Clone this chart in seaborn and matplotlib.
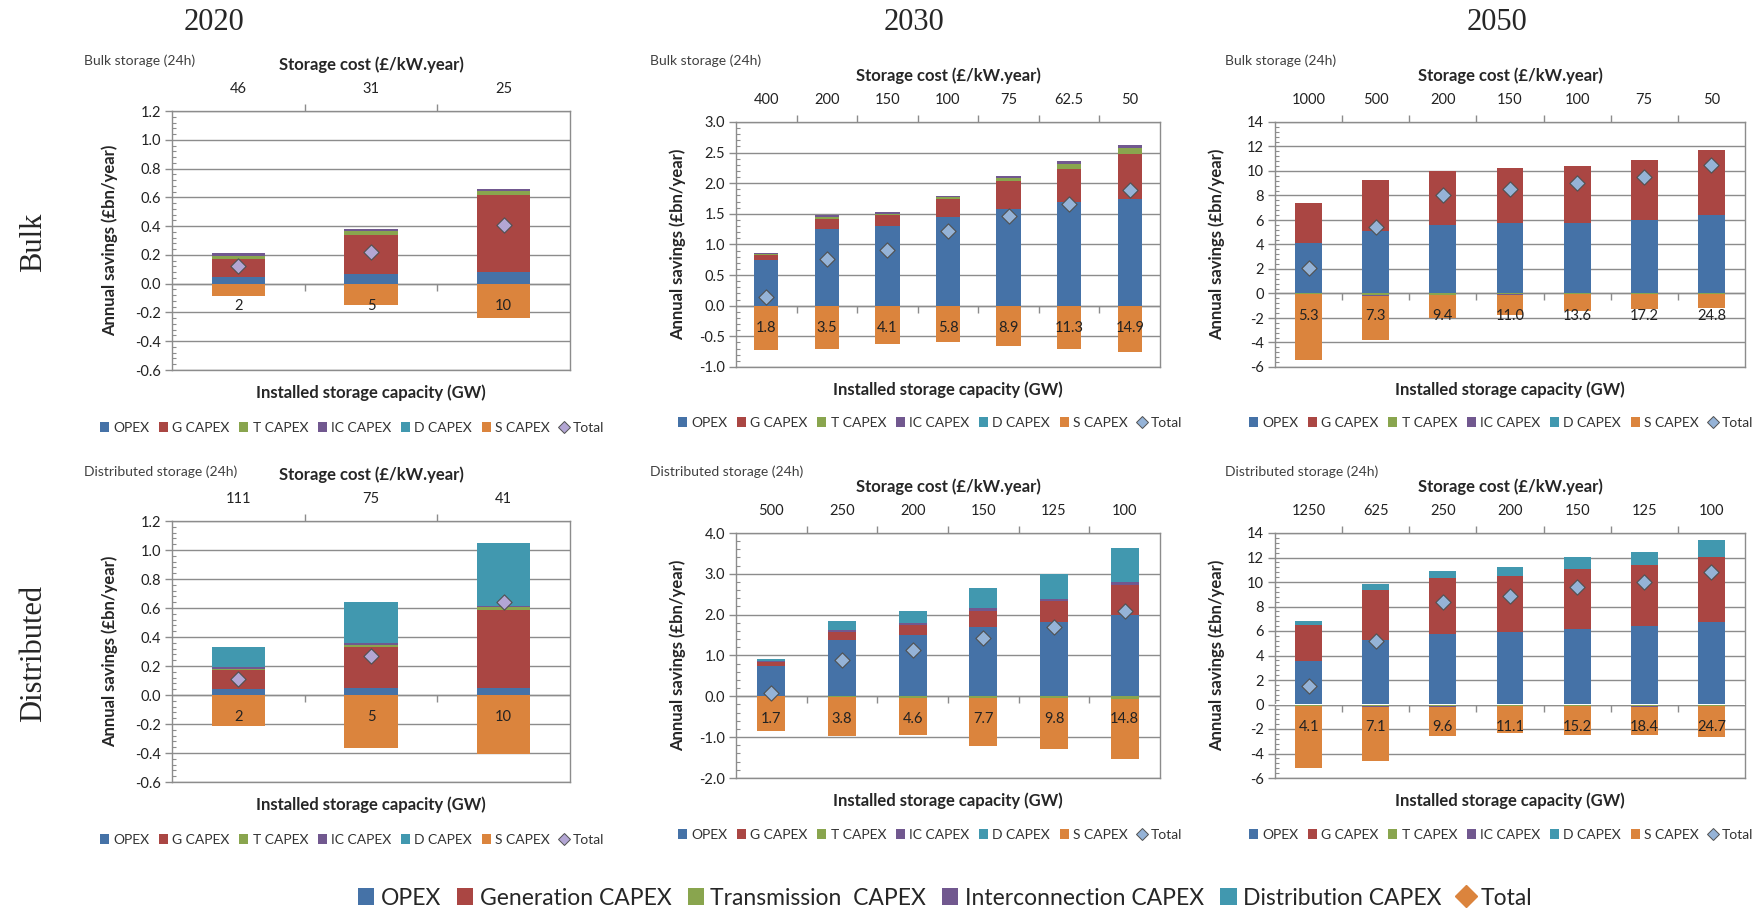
import numpy as np
import matplotlib
matplotlib.use('Agg')
import matplotlib.pyplot as plt
import seaborn as sns
from matplotlib.patches import Patch
from matplotlib.lines import Line2D
from matplotlib.ticker import MultipleLocator, AutoMinorLocator, FormatStrFormatter

sns.set_theme(style='white')
plt.rcParams['font.family'] = ['Lato', 'DejaVu Sans']
plt.rcParams['axes.unicode_minus'] = False

# ---- data ----
series_names = ['OPEX', 'G CAPEX', 'T CAPEX', 'IC CAPEX', 'D CAPEX', 'S CAPEX']
series_long = ['OPEX', 'Generation CAPEX', 'Transmission  CAPEX', 'Interconnection CAPEX',
               'Distribution CAPEX']
colors = ['#4572A7', '#AA4643', '#89A54E', '#71588F', '#4198AF', '#DB843D']

# 2020 bulk
b20_cost = ['46', '31', '25']
b20_cap = ['2', '5', '10']
b20_opex = [0.045, 0.064, 0.083]
b20_g = [0.125, 0.272, 0.533]
b20_t = [0.023, 0.028, 0.030]
b20_ic = [0.017, 0.013, 0.014]
b20_d = [0.0, 0.0, 0.0]
b20_s = [-0.084, -0.148, -0.239]
b20_total = [0.12, 0.22, 0.41]

# 2030 bulk
b30_cost = ['400', '200', '150', '100', '75', '62.5', '50']
b30_cap = ['1.8', '3.5', '4.1', '5.8', '8.9', '11.3', '14.9']
b30_opex = [0.745, 1.248, 1.303, 1.444, 1.585, 1.688, 1.75]
b30_g = [0.091, 0.174, 0.184, 0.293, 0.445, 0.548, 0.734]
b30_t = [0.006, 0.028, 0.016, 0.033, 0.049, 0.081, 0.086]
b30_ic = [0.016, 0.032, 0.033, 0.026, 0.043, 0.043, 0.06]
b30_d = [0, 0, 0, 0, 0, 0, 0]
b30_s = [-0.72, -0.705, -0.624, -0.586, -0.657, -0.705, -0.75]
b30_total = [0.136, 0.765, 0.912, 1.227, 1.46, 1.655, 1.886]

# 2050 bulk
b50_cost = ['1000', '500', '200', '150', '100', '75', '50']
b50_cap = ['5.3', '7.3', '9.4', '11.0', '13.6', '17.2', '24.8']
b50_opex = [4.13, 5.14, 5.6, 5.73, 5.79, 6.03, 6.41]
b50_g = [3.29, 4.10, 4.37, 4.51, 4.64, 4.84, 5.27]
b50_t = [-0.08, -0.1, -0.1, -0.08, -0.06, -0.06, -0.06]
b50_ic = [0, -0.1, 0, -0.08, 0, 0, 0]
b50_d = [0, 0, 0, 0, 0, 0, 0]
b50_s = [-5.33, -3.63, -1.88, -1.63, -1.38, -1.24, -1.16]
b50_total = [2.07, 5.43, 8.04, 8.5, 8.99, 9.54, 10.46]

# 2020 distributed
d20_cost = ['111', '75', '41']
d20_cap = ['2', '5', '10']
d20_opex = [0.039, 0.051, 0.048]
d20_g = [0.131, 0.28, 0.538]
d20_t = [0.012, 0.016, 0.019]
d20_ic = [0.009, 0.012, 0.011]
d20_d = [0.138, 0.28, 0.435]
d20_s = [-0.214, -0.368, -0.407]
d20_total = [0.11, 0.269, 0.644]

# 2030 distributed
d30_cost = ['500', '250', '200', '150', '125', '100']
d30_cap = ['1.7', '3.8', '4.6', '7.7', '9.8', '14.8']
d30_opex = [0.733, 1.385, 1.49, 1.695, 1.82, 1.98]
d30_g = [0.107, 0.195, 0.255, 0.40, 0.52, 0.75]
d30_t = [0.004, -0.02, -0.04, -0.04, -0.04, -0.06]
d30_ic = [0.02, 0.05, 0.045, 0.065, 0.05, 0.06]
d30_d = [0.056, 0.22, 0.30, 0.49, 0.60, 0.84]
d30_s = [-0.84, -0.96, -0.915, -1.18, -1.24, -1.47]
d30_total = [0.08, 0.88, 1.13, 1.43, 1.71, 2.08]

# 2050 distributed
d50_cost = ['1250', '625', '250', '200', '150', '125', '100']
d50_cap = ['4.1', '7.1', '9.6', '11.1', '15.2', '18.4', '24.7']
d50_opex = [3.59, 5.3, 5.79, 5.9, 6.2, 6.44, 6.74]
d50_g = [2.93, 4.08, 4.54, 4.62, 4.86, 4.95, 5.33]
d50_t = [-0.13, -0.1, -0.1, -0.1, -0.1, -0.1, -0.1]
d50_ic = [0, -0.1, -0.1, -0.05, -0.05, -0.1, -0.05]
d50_d = [0.27, 0.43, 0.59, 0.73, 0.95, 1.08, 1.38]
d50_s = [-5.09, -4.39, -2.38, -2.21, -2.30, -2.30, -2.49]
d50_total = [1.49, 5.16, 8.37, 8.89, 9.57, 9.97, 10.82]

W, H = 1765, 913
fig = plt.figure(figsize=(W / 100, H / 100), dpi=100)
gray = '#8C8C8C'


def px_axes(l, r, t, b):
    return fig.add_axes([l / W, 1 - b / H, (r - l) / W, (b - t) / H])


def draw_panel(ax, cost, cap, series, total, ylim, step, fmt, tot_color):
    n = len(cost)
    x = np.arange(n)
    pos = np.zeros(n)
    neg = np.zeros(n)
    for vals, col in zip(series, colors):
        v = np.asarray(vals, float)
        bottom = np.where(v >= 0, pos, neg)
        ax.bar(x, v, 0.4, bottom=bottom, color=col, edgecolor='none', zorder=2)
        pos += np.where(v >= 0, v, 0)
        neg += np.where(v < 0, v, 0)
    sns.scatterplot(x=x, y=total, marker='D', s=60, color=tot_color, edgecolor='#505050',
                    linewidth=0.8, zorder=4, ax=ax, legend=False)

    ax.set_xlim(-0.5, n - 0.5)
    ax.set_ylim(*ylim)
    ax.yaxis.set_major_locator(MultipleLocator(step))
    ax.yaxis.set_minor_locator(AutoMinorLocator(5))
    ax.yaxis.set_major_formatter(FormatStrFormatter(fmt))
    ax.grid(axis='y', which='major', color=gray, lw=1)
    ax.grid(axis='x', visible=False)
    ax.set_axisbelow(True)
    for s in ax.spines.values():
        s.set_visible(True)
        s.set_color(gray)
        s.set_linewidth(1)
    ax.tick_params(axis='y', which='major', left=True, direction='out', length=5, width=1,
                   color=gray, labelsize=10.5, pad=3, labelcolor='#222222')
    ax.tick_params(axis='y', which='minor', left=True, direction='in', length=3, width=0.8,
                   color=gray)
    ax.xaxis.tick_top()
    ax.set_xticks(x)
    ax.set_xticklabels(cost)
    ax.set_xticks(x[:-1] + 0.5, minor=True)
    ax.tick_params(axis='x', which='major', top=True, bottom=False, length=0, pad=11,
                   labelsize=10.5, labelcolor='#222222')
    ax.tick_params(axis='x', which='minor', top=True, bottom=False, direction='out',
                   length=5, width=1, color=gray)
    ax.axhline(0, color=gray, lw=1, zorder=1.5)

    # capacity labels sit on the zero line, like an Excel category axis
    frac = -ylim[0] / (ylim[1] - ylim[0])
    sec = ax.secondary_xaxis(frac)
    sec.set_xticks(x)
    sec.set_xticklabels(cap)
    sec.set_xticks(x[:-1] + 0.5, minor=True)
    sec.spines['bottom'].set_visible(False)
    sec.tick_params(axis='x', which='major', bottom=True, length=0, pad=11,
                    labelsize=10.5, labelcolor='#222222')
    sec.tick_params(axis='x', which='minor', bottom=True, direction='out', length=5,
                    width=1, color=gray)
    sec.set_zorder(5)

    ax.set_ylabel('')
    ax.annotate('Installed storage capacity (GW)', xy=(0.5, 0), xycoords='axes fraction',
                xytext=(0, -16), textcoords='offset points', ha='center', va='center',
                fontsize=12, fontweight='bold')
    ax.annotate('Storage cost (£/kW.year)', xy=(0.5, 1), xycoords='axes fraction',
                xytext=(0, 33), textcoords='offset points', ha='center', va='center',
                fontsize=12, fontweight='bold')


def panel_legend(ax, cx, cy, tot_color):
    handles = [Patch(facecolor=c, edgecolor='none', label=l) for c, l in zip(colors, series_names)]
    handles.append(Line2D([], [], marker='D', ls='none', markersize=6, markerfacecolor=tot_color,
                          markeredgecolor='#505050', markeredgewidth=0.7, label='Total'))
    leg = ax.legend(handles=handles, loc='center', bbox_to_anchor=(cx / W, 1 - cy / H),
                    bbox_transform=fig.transFigure, ncol=7, frameon=False, fontsize=10,
                    handlelength=0.65, handleheight=0.65, handletextpad=0.3,
                    columnspacing=0.7, borderaxespad=0)
    for t in leg.get_texts():
        t.set_color('#333333')


lav = '#B3A6D4'
lblue = '#95B3D7'

panels = [
    dict(box=(172, 570, 111, 370), cost=b20_cost, cap=b20_cap,
         series=[b20_opex, b20_g, b20_t, b20_ic, b20_d, b20_s], total=b20_total,
         ylim=(-0.6, 1.2), step=0.2, fmt='%.1f', tc=lav, lbl='Bulk storage (24h)',
         lbl_xy=(84, 61), leg=(352, 428), ylab_x=110),
    dict(box=(736, 1160, 122, 367), cost=b30_cost, cap=b30_cap,
         series=[b30_opex, b30_g, b30_t, b30_ic, b30_d, b30_s], total=b30_total,
         ylim=(-1.0, 3.0), step=0.5, fmt='%.1f', tc=lblue, lbl='Bulk storage (24h)',
         lbl_xy=(650, 61), leg=(930, 423), ylab_x=678),
    dict(box=(1275, 1745, 122, 367), cost=b50_cost, cap=b50_cap,
         series=[b50_opex, b50_g, b50_t, b50_ic, b50_d, b50_s], total=b50_total,
         ylim=(-6, 14), step=2, fmt='%d', tc=lblue, lbl='Bulk storage (24h)',
         lbl_xy=(1225, 61), leg=(1501, 423), ylab_x=1217),
    dict(box=(172, 570, 521, 782), cost=d20_cost, cap=d20_cap,
         series=[d20_opex, d20_g, d20_t, d20_ic, d20_d, d20_s], total=d20_total,
         ylim=(-0.6, 1.2), step=0.2, fmt='%.1f', tc=lav, lbl='Distributed storage (24h)',
         lbl_xy=(84, 472), leg=(352, 840), ylab_x=110),
    dict(box=(736, 1160, 533, 778), cost=d30_cost, cap=d30_cap,
         series=[d30_opex, d30_g, d30_t, d30_ic, d30_d, d30_s], total=d30_total,
         ylim=(-2.0, 4.0), step=1.0, fmt='%.1f', tc=lblue, lbl='Distributed storage (24h)',
         lbl_xy=(650, 472), leg=(930, 835), ylab_x=678),
    dict(box=(1275, 1745, 533, 778), cost=d50_cost, cap=d50_cap,
         series=[d50_opex, d50_g, d50_t, d50_ic, d50_d, d50_s], total=d50_total,
         ylim=(-6, 14), step=2, fmt='%d', tc=lblue, lbl='Distributed storage (24h)',
         lbl_xy=(1225, 472), leg=(1501, 835), ylab_x=1217),
]

for p in panels:
    l, r, t, b = p['box']
    ax = px_axes(l, r, t, b)
    draw_panel(ax, p['cost'], p['cap'], p['series'], p['total'], p['ylim'], p['step'],
               p['fmt'], p['tc'])
    panel_legend(ax, p['leg'][0], p['leg'][1], p['tc'])
    fig.text(p['lbl_xy'][0] / W, 1 - p['lbl_xy'][1] / H, p['lbl'], ha='left', va='center',
             fontsize=10, color='#404040')
    fig.text(p['ylab_x'] / W, 1 - (t + b) / 2 / H, 'Annual savings (£bn/year)', rotation=90,
             ha='center', va='center', fontsize=12, fontweight='bold')

serif = ['Liberation Serif', 'DejaVu Serif']
for x, yr in zip([214, 914, 1497], ['2020', '2030', '2050']):
    fig.text(x / W, 1 - 22 / H, yr, ha='center', va='center', fontsize=22, family=serif)
fig.text(34 / W, 1 - 242 / H, 'Bulk', rotation=90, ha='center', va='center', fontsize=22,
         family=serif)
fig.text(34 / W, 1 - 653 / H, 'Distributed', rotation=90, ha='center', va='center',
         fontsize=22, family=serif)

# overall legend
big_handles = [Patch(facecolor=c, edgecolor='none', label=l) for c, l in zip(colors[:5], series_long)]
big_handles.append(Line2D([], [], marker='D', ls='none', markersize=11, color='#DB843D',
                          label='Total'))
fig.legend(handles=big_handles, loc='center', bbox_to_anchor=(945 / W, 1 - 898 / H), ncol=6,
           frameon=False, prop={'family': ['Lato'], 'size': 16.5},
           handlelength=0.7, handleheight=0.7, handletextpad=0.3, columnspacing=0.7,
           borderaxespad=0)

fig.savefig('out.png', dpi=100, facecolor='white')
